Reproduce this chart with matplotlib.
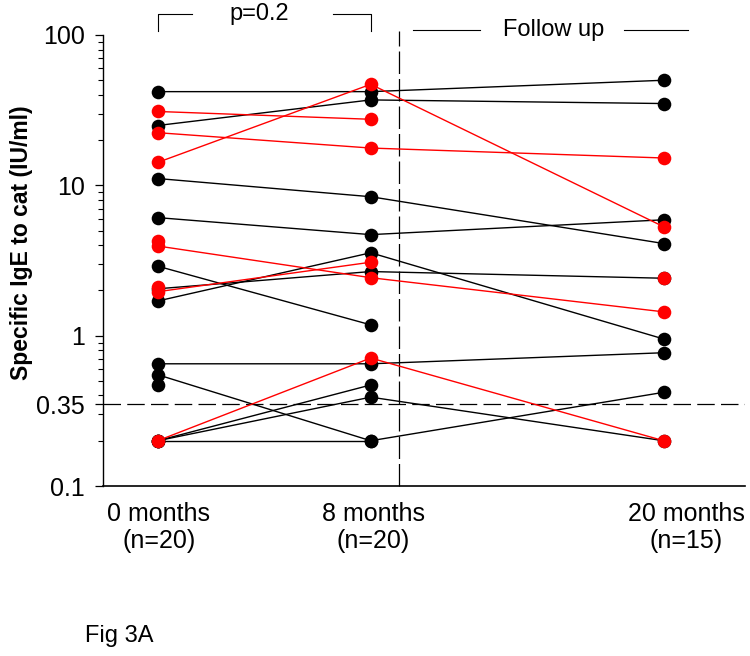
import numpy as np
import matplotlib
matplotlib.use("Agg")
import matplotlib.pyplot as plt
from matplotlib.ticker import LogLocator, NullFormatter
import matplotlib.transforms as mtransforms

plt.rcParams["font.family"] = ["Liberation Sans", "DejaVu Sans"]

nan = np.nan

# time points and their labels
timeLabels = ["0 months\n(n=20)", "8 months\n(n=20)", "20 months\n(n=15)"]
timePos = [0, 8, 19]

# specific IgE per child (IU/ml) at 0, 8 and 20 months; nan = no sample
blackSubjects = [
    [42.0, 42.0, 50.0],
    [25.0, 37.0, 35.0],
    [11.1, 8.4, 4.1],
    [6.1, 4.7, 5.9],
    [2.9, 1.18, nan],
    [2.05, 2.67, 2.41],
    [1.7, 3.56, 0.95],
    [0.65, 0.65, 0.77],
    [0.55, 0.2, 0.42],
    [0.47, nan, nan],
    [0.2, 0.47, nan],
    [0.2, 0.39, 0.2],
    [0.2, 0.2, nan],
]
redSubjects = [
    [31.0, 27.5, nan],
    [22.4, 17.7, 15.2],
    [14.2, 47.0, 5.3],
    [4.25, nan, nan],
    [3.95, 2.43, 1.44],
    [2.1, nan, nan],
    [1.96, 3.08, nan],
    [0.2, 0.71, 0.2],
    [nan, nan, 2.41],
]

yTicks = [0.1, 0.35, 1, 10, 100]
yTickLabels = ["0.1", "0.35", "1", "10", "100"]
cutoff = 0.35

fig = plt.figure(figsize=(7.5, 6.56), dpi=100)
ax = fig.add_axes([103 / 750, 1 - 486 / 656, 642 / 750, 451 / 656])

ax.set_yscale("log")
ax.set_ylim(0.1, 100)
ax.set_xlim(-2.05, 22.05)

for color, subjects, z in (("black", blackSubjects, 3), ("#ff0000", redSubjects, 4)):
    for vals in subjects:
        vals = np.array(vals)
        ok = ~np.isnan(vals)
        ax.plot(np.array(timePos)[ok], vals[ok], color=color, lw=1.0,
                marker="o", markersize=9.8, markeredgewidth=0, zorder=z)

# detection limit and start of follow up
ax.axhline(cutoff, color="black", lw=0.9, dashes=(14, 5), zorder=2)
ax.plot([9.05, 9.05], [0.1, 106], color="black", lw=0.9, dashes=(18, 4),
        clip_on=False, zorder=2)

ax.spines["top"].set_visible(False)
ax.spines["right"].set_visible(False)
ax.spines["left"].set_linewidth(1.0)
ax.spines["bottom"].set_linewidth(1.2)

ax.set_yticks(yTicks)
ax.set_yticklabels(yTickLabels)
ax.yaxis.set_minor_locator(LogLocator(base=10, subs=np.arange(2, 10)))
ax.yaxis.set_minor_formatter(NullFormatter())
ax.tick_params(axis="y", which="major", length=6, width=0.9, labelsize=18, pad=7)
ax.tick_params(axis="y", which="minor", length=3.5, width=0.8)

# x labels drawn as text so the last one can sit a little right of its points
ax.set_xticks(timePos)
ax.set_xticklabels([])
ax.tick_params(axis="x", length=0)
xtrans = mtransforms.blended_transform_factory(ax.transData, ax.transAxes)
labelX = [0.05, 8.1, 19.85]
for x, lab in zip(labelX, timeLabels):
    ax.text(x, -0.035, lab, fontsize=18, ha="center", va="top",
            linespacing=1.15, transform=xtrans)

ax.set_ylabel("Specific IgE to cat (IU/ml)", fontsize=16.5, fontweight="bold", labelpad=2)
ax.yaxis.label.set_y(0.54)

# header brackets
trans = mtransforms.blended_transform_factory(ax.transData, ax.transAxes)
yb = 1.046
ax.plot([0, 0, 1.3], [1.009, yb, yb], color="black", lw=0.8, transform=trans, clip_on=False)
ax.plot([6.6, 8, 8], [yb, yb, 1.009], color="black", lw=0.8, transform=trans, clip_on=False)
ax.text(3.8, yb, "p=0.2", fontsize=17, ha="center", va="center", transform=trans)

yf = 1.011
ax.plot([9.6, 12.1], [yf, yf], color="black", lw=0.8, transform=trans, clip_on=False)
ax.plot([17.5, 19.9], [yf, yf], color="black", lw=0.8, transform=trans, clip_on=False)
ax.text(14.85, yf, "Follow up", fontsize=17, ha="center", va="center", transform=trans)

fig.text(85 / 750, 1 - 636 / 656, "Fig 3A", fontsize=17, ha="left", va="center")

fig.savefig("out.png", dpi=100)
